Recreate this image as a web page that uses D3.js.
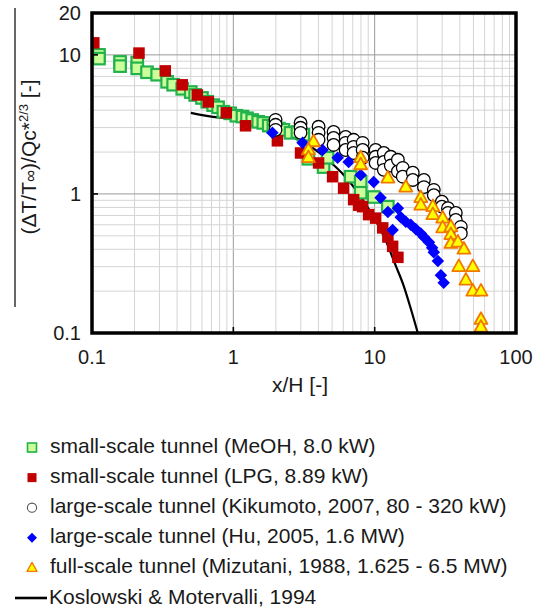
<!DOCTYPE html>
<html>
<head>
<meta charset="utf-8">
<script src="https://cdn.jsdelivr.net/npm/d3@7"></script>
<style>
  html, body { margin: 0; padding: 0; background: #fff; }
  svg { display: block; font-family: "Liberation Sans", Arial, sans-serif; }
</style>
</head>
<body>
<svg id="chart" width="543" height="608"></svg>
<script>
// ---------- data (x/H, (ΔT/T∞)/Qc*^(2/3)) ----------
const meohX = [0.112,0.112,0.158,0.158,0.209,0.209,0.245,0.289,0.34,0.375,0.435,0.50,0.537,0.60,0.654,0.72,0.78,0.85,0.95,1.05,1.16,1.25,1.36,1.5,1.63,1.78,1.92,2.1,2.26,2.54,2.84,3.13,3.4,4.35,4.64,6.76,7.96,7.96,9.84,12.4];
const meohY = [10.0,9.4,8.9,8.3,8.8,8.0,7.5,7.2,6.4,6.1,5.7,5.4,5.15,4.9,4.6,4.35,4.2,3.9,3.8,3.65,3.6,3.5,3.4,3.3,3.24,3.1,3.04,2.95,2.89,2.75,2.79,2.66,1.79,1.56,1.82,1.33,1.22,1.02,0.95,0.81];

const lpgX = [0.103,0.215,0.330,0.435,0.556,0.665,0.892,1.22,2.05,2.99,4.01,5.04,6.03,7.10,7.70,8.22,9.06,10.16,11.4,12.4,13.4,14.6];
const lpgY = [12.2,10.3,7.67,6.09,5.15,4.59,3.83,3.09,2.41,1.97,1.67,1.33,1.10,0.91,0.83,0.81,0.71,0.67,0.57,0.49,0.42,0.35];

const kikuX = [1.99,1.99,1.99,2.99,2.99,2.99,4.01,4.01,4.01,5.12,5.12,5.12,6.23,6.23,6.23,7.10,7.10,7.10,8.22,8.22,8.22,10.16,10.16,10.16,11.6,11.6,11.6,13.0,13.0,14.6,14.6,15.8,15.8,18.6,18.6,22.3,22.3,26.2,26.2,29.9,29.9,33.0,33.0,37.5,37.5,40.7,40.7];
const kikuY = [3.41,3.14,2.89,3.24,2.99,2.75,3.04,2.75,2.45,2.79,2.53,2.25,2.57,2.33,2.07,2.45,2.18,1.97,2.33,2.07,1.82,2.07,1.85,1.67,1.97,1.70,1.49,1.85,1.60,1.76,1.45,1.54,1.33,1.42,1.26,1.26,1.12,1.07,0.98,0.88,0.81,0.79,0.73,0.73,0.65,0.58,0.52];

const huX = [1.89,3.09,4.28,5.47,6.54,7.96,9.84,11.0,12.4,13.4,14.6,15.3,16.6,18.0,19.5,21.2,22.3,24.2,25.5,26.2,28.0,29.4,30.8];
const huY = [2.75,2.33,2.07,1.82,1.70,1.37,1.22,0.94,0.74,0.55,0.79,0.68,0.63,0.60,0.56,0.52,0.49,0.45,0.41,0.38,0.33,0.26,0.23];

const mizuX = [3.69,3.40,3.40,7.96,7.96,12.4,16.6,21.2,21.2,25.8,25.8,30.3,30.3,34.6,34.6,34.6,38.8,42.8,39.4,49.5,44.2,49.5,56.5,56.5,56.5];
const mizuY = [2.37,2.07,1.82,1.82,1.62,1.30,1.12,0.94,0.83,0.81,0.71,0.67,0.57,0.58,0.51,0.44,0.45,0.40,0.30,0.30,0.24,0.20,0.20,0.125,0.11];

const kmX = [0.5,0.78,1,2,3,4,5,6,8,10,12,14,16,18,20.2];
const kmY = [3.83,3.55,3.5,2.9,2.4,2.0,1.65,1.38,0.95,0.66,0.46,0.31,0.22,0.15,0.1];

const xTicks = [0.1, 1, 10, 100];
const xTickLabels = ["0.1", "1", "10", "100"];
const yTicks = [0.1, 1, 10, 20];
const yTickLabels = ["0.1", "1", "10", "20"];

const legendLabels = [
  "small-scale tunnel (MeOH, 8.0 kW)",
  "small-scale tunnel (LPG, 8.89 kW)",
  "large-scale tunnel (Kikumoto, 2007, 80 - 320 kW)",
  "large-scale tunnel (Hu, 2005, 1.6 MW)",
  "full-scale tunnel (Mizutani, 1988, 1.625 - 6.5 MW)",
  "Koslowski & Motervalli, 1994"
];

// ---------- layout ----------
const L = 92, R = 516, T = 13, B = 333;
const svg = d3.select("#chart");
const x = d3.scaleLog().domain([0.1, 100]).range([L, R]);
const y = d3.scaleLog().domain([0.1, 20]).range([B, T]);

const zip = (xs, ys) => xs.map((v, i) => [v, ys[i]]);

// grid
const gx = [], gy = [];
[0.1, 1, 10].forEach(d => { for (let k = 1; k <= 9; k++) gx.push(+(d * k).toPrecision(3)); });
gx.push(100);
[0.1, 1, 10].forEach(d => { for (let k = 1; k <= 9; k++) if (d * k <= 20) gy.push(+(d * k).toPrecision(3)); });
gy.push(20);
const isMajor = v => [0.1, 1, 10, 100].includes(v);

const grid = svg.append("g");
grid.selectAll(".gx").data(gx).enter().append("line")
  .attr("x1", d => x(d)).attr("x2", d => x(d)).attr("y1", T).attr("y2", B)
  .attr("stroke", d => isMajor(d) ? "#9a9a9a" : "#d4d4d4").attr("stroke-width", 1);
grid.selectAll(".gy").data(gy).enter().append("line")
  .attr("y1", d => y(d)).attr("y2", d => y(d)).attr("x1", L).attr("x2", R)
  .attr("stroke", d => isMajor(d) ? "#9a9a9a" : "#d4d4d4").attr("stroke-width", 1);

// clip
svg.append("clipPath").attr("id", "clip").append("rect")
  .attr("x", L).attr("y", T).attr("width", R - L).attr("height", B - T);
const plot = svg.append("g").attr("clip-path", "url(#clip)");

// Koslowski line
plot.append("path").datum(zip(kmX, kmY))
  .attr("d", d3.line().x(d => x(d[0])).y(d => y(d[1])).curve(d3.curveMonotoneX))
  .attr("fill", "none").attr("stroke", "#000").attr("stroke-width", 2.2);

// marker helpers
function square(g, s, fill, stroke, sw) {
  return g.append("rect").attr("x", -s / 2).attr("y", -s / 2).attr("width", s).attr("height", s)
    .attr("fill", fill).attr("stroke", stroke).attr("stroke-width", sw);
}
function diamond(g, s, fill) {
  const h = s / 2;
  return g.append("path").attr("d", `M0,${-h}L${h},0L0,${h}L${-h},0Z`).attr("fill", fill);
}
function triangle(g, s, fill, stroke, sw) {
  const h = s * 0.9;
  return g.append("path").attr("d", `M0,${-h * 0.62}L${s / 2},${h * 0.38}L${-s / 2},${h * 0.38}Z`)
    .attr("fill", fill).attr("stroke", stroke).attr("stroke-width", sw).attr("stroke-linejoin", "round");
}
function circle(g, r, fill, stroke, sw) {
  return g.append("circle").attr("r", r).attr("fill", fill).attr("stroke", stroke).attr("stroke-width", sw);
}

const GREEN_F = "#ccff99", GREEN_S = "#22b24c";
const RED = "#c00000", BLUE = "#0000ff", YEL = "#ffff00", ORA = "#f07800";

function series(xs, ys, draw) {
  zip(xs, ys).forEach(d => {
    const g = plot.append("g").attr("transform", `translate(${x(d[0])},${y(d[1])})`);
    draw(g);
  });
}
series(meohX, meohY, g => square(g, 11.5, GREEN_F, GREEN_S, 2.2));
series(lpgX, lpgY, g => square(g, 11.5, RED, "none", 0));
series(kikuX, kikuY, g => circle(g, 6.3, "#fff", "#000", 1.3));
series(huX, huY, g => diamond(g, 12.5, BLUE));
series(mizuX, mizuY, g => triangle(g, 13, YEL, ORA, 1.8));

// frame
svg.append("rect").attr("x", L).attr("y", T).attr("width", R - L).attr("height", B - T)
  .attr("fill", "none").attr("stroke", "#000").attr("stroke-width", 3.5);

// inward ticks
[1, 10].forEach(v => {
  svg.append("line").attr("x1", x(v)).attr("x2", x(v)).attr("y1", B).attr("y2", B - 6)
    .attr("stroke", "#000").attr("stroke-width", 1.6);
  svg.append("line").attr("y1", y(v)).attr("y2", y(v)).attr("x1", L).attr("x2", L + 6)
    .attr("stroke", "#000").attr("stroke-width", 1.6);
});

// tick labels
svg.selectAll(".xl").data(xTicks).enter().append("text")
  .attr("x", d => x(d)).attr("y", 364).attr("text-anchor", "middle")
  .attr("font-size", 20).attr("fill", "#1a1a1a").text((d, i) => xTickLabels[i]);
svg.selectAll(".yl").data(yTicks).enter().append("text")
  .attr("x", 81).attr("y", d => y(d) + 7).attr("text-anchor", "end")
  .attr("font-size", 20).attr("fill", "#1a1a1a").text((d, i) => yTickLabels[i]);

// axis titles
svg.append("text").attr("x", 300).attr("y", 392).attr("text-anchor", "middle")
  .attr("font-size", 21).attr("fill", "#1a1a1a").text("x/H [-]");

const yt = svg.append("text").attr("transform", "translate(36,157) rotate(-90)")
  .attr("text-anchor", "middle").attr("font-size", 21).attr("fill", "#1a1a1a");
yt.append("tspan").text("(ΔT/T");
yt.append("tspan").attr("font-size", 17).text("∞");
yt.append("tspan").text(")/Qc*");
yt.append("tspan").attr("font-size", 13).attr("dy", -8).text("2/3");
yt.append("tspan").attr("dy", 8).text(" [-]");

svg.append("line").attr("x1", 15).attr("x2", 15).attr("y1", 8).attr("y2", 307)
  .attr("stroke", "#000").attr("stroke-width", 1.2);

// legend
const lg = svg.append("g");
const ly0 = 447.5, ldy = 30.1;
const drawers = [
  g => square(g, 9, GREEN_F, GREEN_S, 1.6),
  g => square(g, 9, RED, "none", 0),
  g => circle(g, 4.6, "#fff", "#555", 1.1),
  g => diamond(g, 10, BLUE),
  g => triangle(g, 10, YEL, ORA, 1.3),
  g => g.append("line").attr("x1", -17).attr("x2", 15).attr("y1", 0).attr("y2", 0)
        .attr("stroke", "#000").attr("stroke-width", 2.6)
];
legendLabels.forEach((lab, i) => {
  const cy = ly0 + i * ldy;
  const g = lg.append("g").attr("transform", `translate(32,${cy})`);
  drawers[i](g);
  lg.append("text").attr("x", i === 5 ? 49 : 50).attr("y", cy + 5.5)
    .attr("font-size", 21).attr("fill", "#1a1a1a").text(lab);
});
</script>
</body>
</html>
